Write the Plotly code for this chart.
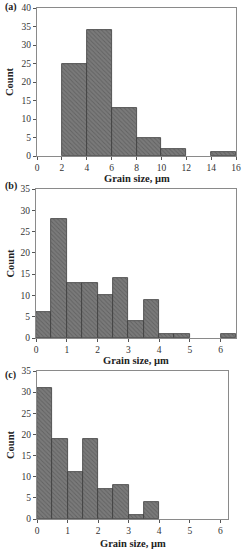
import plotly.graph_objects as go

# Data: histogram bins (left edges), bin widths, and counts
a_left = [2, 4, 6, 8, 10, 14]
a_width = 2
a_counts = [25, 34, 13, 5, 2, 1]

b_left = [0, 0.5, 1.0, 1.5, 2.0, 2.5, 3.0, 3.5, 4.0, 4.5, 6.0]
b_width = 0.5
b_counts = [6, 28, 13, 13, 10, 14, 4, 9, 1, 1, 1]

c_left = [0, 0.5, 1.0, 1.5, 2.0, 2.5, 3.0, 3.5]
c_width = 0.5
c_counts = [31, 19, 11, 19, 7, 8, 1, 4]

W, H = 242, 550
FONT = "Liberation Serif"

def px_y(p):
    return 1 - p / H

def px_x(p):
    return p / W

panels = [
    dict(left=a_left, width=a_width, counts=a_counts, xr=[0, 16], xd=2, yr=[0, 40],
         xdom=[37, 236], ydom=[8, 156], label="(a)", lab_y=7, title_y=178),
    dict(left=b_left, width=b_width, counts=b_counts, xr=[0, 6.5], xd=1, yr=[0, 35],
         xdom=[36, 236], ydom=[189, 338], label="(b)", lab_y=186, title_y=360),
    dict(left=c_left, width=c_width, counts=c_counts, xr=[0, 6.25], xd=1, yr=[0, 35],
         xdom=[37, 228], ydom=[371, 519], label="(c)", lab_y=375, title_y=543),
]

fig = go.Figure()
annotations = []
for i, p in enumerate(panels):
    n = "" if i == 0 else str(i + 1)
    centers = [l + p["width"] / 2 for l in p["left"]]
    fig.add_trace(go.Bar(
        x=centers, y=p["counts"], width=p["width"],
        xaxis="x" + n, yaxis="y" + n,
        marker=dict(color="#6f6f6f",
                    line=dict(color="#3c3c3c", width=0.8),
                    pattern=dict(shape="\\", fgcolor="#4a4a4a", bgcolor="#7a7a7a",
                                 size=3, solidity=0.3)),
        showlegend=False,
    ))
    axis_common = dict(showline=True, linecolor="#8a8a8a", linewidth=1, mirror=True,
                       ticks="outside", ticklen=3, tickcolor="#555", tickwidth=1,
                       showgrid=False, zeroline=False, automargin=False,
                       tickfont=dict(family=FONT, size=9.5, color="#333"))
    fig.layout["xaxis" + n] = dict(
        domain=[px_x(p["xdom"][0]), px_x(p["xdom"][1])],
        range=p["xr"], dtick=p["xd"], tick0=0, anchor="y" + n,
        ticklabeloverflow="allow", **axis_common)
    fig.layout["yaxis" + n] = dict(
        domain=[px_y(p["ydom"][1]), px_y(p["ydom"][0])],
        range=p["yr"], dtick=5, anchor="x" + n, **axis_common)
    annotations.append(dict(text="<b>" + p["label"] + "</b>", xref="paper", yref="paper",
                            x=px_x(3), y=px_y(p["lab_y"]), xanchor="left", yanchor="middle",
                            showarrow=False, font=dict(family=FONT, size=10, color="#222")))
    annotations.append(dict(text="<b>Grain size, µm</b>", xref="paper", yref="paper",
                            x=px_x((p["xdom"][0] + p["xdom"][1]) / 2), y=px_y(p["title_y"]),
                            xanchor="center", yanchor="middle", showarrow=False,
                            font=dict(family=FONT, size=10.5, color="#222")))
    annotations.append(dict(text="<b>Count</b>", xref="paper", yref="paper",
                            x=px_x(10), y=px_y((p["ydom"][0] + p["ydom"][1]) / 2),
                            xanchor="center", yanchor="middle", textangle=-90, showarrow=False,
                            font=dict(family=FONT, size=10.5, color="#222")))

fig.update_layout(width=W, height=H, margin=dict(l=0, r=0, t=0, b=0, autoexpand=False),
                  paper_bgcolor="white", plot_bgcolor="white", bargap=0,
                  annotations=annotations)
fig.write_html("out.html", config={"displayModeBar": False},
               post_script="document.body.style.margin='0';document.body.style.overflow='hidden';")
